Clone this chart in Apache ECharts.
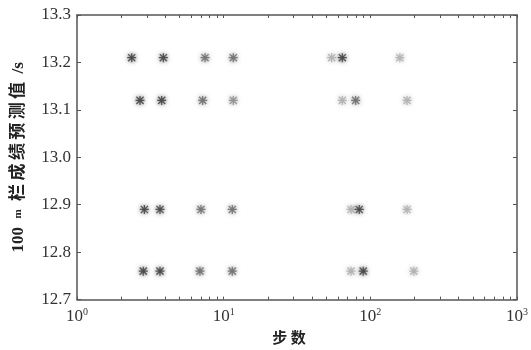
<!DOCTYPE html>
<html>
<head>
<meta charset="utf-8">
<script src="https://cdn.jsdelivr.net/npm/echarts@6/dist/echarts.min.js"></script>
<style>
  html, body { margin: 0; padding: 0; background: #fff; }
  #chart { width: 531px; height: 350px; }
</style>
</head>
<body>
<div id="chart"></div>
<script>
// dark points
var darkX = [2.36, 3.88, 2.69, 3.78, 2.88, 3.68, 2.83, 3.68, 64.4, 84, 89.4]
var darkY = [13.21, 13.21, 13.12, 13.12, 12.89, 12.89, 12.76, 12.76, 13.21, 12.89, 12.76]
// medium points
var midX = [7.46, 7.19, 7.0, 6.89, 11.63, 11.45, 11.45, 79.4]
var midY = [13.21, 13.12, 12.89, 12.76, 13.21, 12.89, 12.76, 13.12]
// lighter medium
var softX = [11.63]
var softY = [13.12]
// light points
var lightX = [54.5, 64.4, 73.8, 73.8, 159, 178, 178, 198]
var lightY = [13.21, 13.12, 12.89, 12.76, 13.21, 13.12, 12.89, 12.76]

var yTicks = ['12.7', '12.8', '12.9', '13.0', '13.1', '13.2', '13.3']
var xTickValues = [1, 2, 3, 4, 5, 6, 7, 8, 9, 10, 20, 30, 40, 50, 60, 70, 80, 90, 100, 200, 300, 400, 500, 600, 700, 800, 900, 1000]

function pairs (xs, ys) {
  return xs.map(function (x, i) { return [x, ys[i]] })
}

// matlab-like asterisk marker
var star = 'path://M-0.7,-5 L0.7,-5 L0.7,5 L-0.7,5 Z M-5,-0.7 L5,-0.7 L5,0.7 L-5,0.7 Z ' +
  'M-3.5,-4.5 L4.5,3.5 L3.5,4.5 L-4.5,-3.5 Z M3.5,-4.5 L4.5,-3.5 L-3.5,4.5 L-4.5,3.5 Z'

function dots (name, xs, ys, color) {
  return {
    name: name,
    type: 'scatter',
    symbol: star,
    symbolSize: 9,
    data: pairs(xs, ys),
    itemStyle: { color: color, shadowBlur: 4, shadowColor: color }
  }
}

var lineStyle = { color: '#555', width: 1.5 }
var serif = 'Liberation Serif'
var mixed = '"Liberation Serif", "Noto Sans CJK SC"'
var thin = '\u2009'

var chart = echarts.init(document.getElementById('chart'))
chart.setOption({
  backgroundColor: '#fff',
  animation: false,
  grid: { left: 77, right: 14, top: 15, bottom: 45 },
  xAxis: [{
    type: 'log',
    logBase: 10,
    min: 1,
    max: 1000,
    position: 'bottom',
    name: '步 数',
    nameLocation: 'middle',
    nameGap: 27,
    nameTextStyle: { fontFamily: 'Noto Sans CJK SC', fontWeight: 'bold', fontSize: 15, color: '#222', padding: [0, 16, 0, 0] },
    axisLine: { lineStyle: lineStyle },
    axisTick: { inside: true, length: 3, customValues: xTickValues, lineStyle: { color: '#555' } },
    splitLine: { show: false },
    axisLabel: {
      margin: 8,
      fontFamily: serif,
      fontSize: 17,
      color: '#333',
      formatter: function (v) {
        return '10{sup|' + Math.round(Math.log10(v)) + '}'
      },
      rich: { sup: { fontFamily: serif, fontSize: 10, color: '#333', verticalAlign: 'top', padding: [0, 0, 8, 0] } }
    }
  }, {
    type: 'log',
    logBase: 10,
    min: 1,
    max: 1000,
    position: 'top',
    axisLine: { lineStyle: lineStyle },
    axisTick: { inside: true, length: 3, customValues: xTickValues, lineStyle: { color: '#555' } },
    axisLabel: { show: false },
    splitLine: { show: false }
  }],
  yAxis: [{
    type: 'value',
    min: 12.7,
    max: 13.3,
    interval: 0.1,
    position: 'left',
    name: '100  {m|m}  ' + '栏成绩预测值'.split('').join(thin) + '  /s',
    nameLocation: 'middle',
    nameGap: 50,
    nameTextStyle: {
      fontFamily: mixed,
      fontWeight: 'bold',
      fontSize: 17,
      color: '#222',
      padding: [0, 0, 0, 0],
      rich: { m: { fontFamily: serif, fontWeight: 'bold', fontSize: 11, color: '#222' } }
    },
    axisLine: { show: true, lineStyle: lineStyle },
    axisTick: { show: true, inside: true, length: 4, lineStyle: { color: '#555' } },
    splitLine: { show: false },
    axisLabel: {
      fontFamily: serif,
      fontSize: 17,
      color: '#333',
      margin: 6,
      formatter: function (v, i) { return yTicks[i] }
    }
  }, {
    type: 'value',
    min: 12.7,
    max: 13.3,
    interval: 0.1,
    position: 'right',
    axisLine: { show: true, lineStyle: lineStyle },
    axisTick: { show: true, inside: true, length: 4, lineStyle: { color: '#555' } },
    axisLabel: { show: false },
    splitLine: { show: false }
  }],
  series: [
    dots('light', lightX, lightY, '#ababab'),
    dots('soft', softX, softY, '#8a8a8a'),
    dots('mid', midX, midY, '#666'),
    dots('dark', darkX, darkY, '#3a3a3a')
  ]
})
</script>
</body>
</html>
